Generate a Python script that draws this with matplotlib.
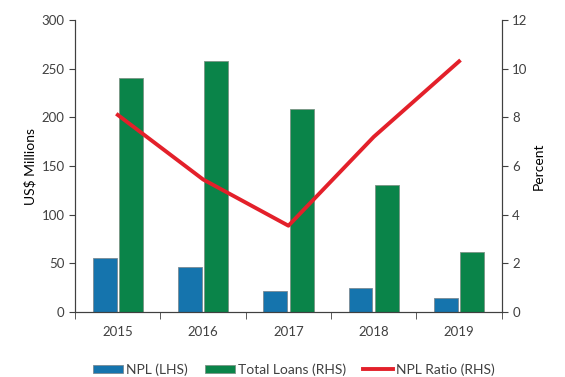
import numpy as np
import matplotlib
matplotlib.use('Agg')
import matplotlib.pyplot as plt

years = ['2015', '2016', '2017', '2018', '2019']
npl = [56, 46, 22, 25, 15]
total_loans = [240, 258, 209, 131, 62]
npl_ratio = [8.1, 5.45, 3.55, 7.2, 10.3]

plt.rcParams['font.family'] = ['Lato', 'DejaVu Sans']
plt.rcParams['font.size'] = 9.5
plt.rcParams['text.color'] = '#404040'
plt.rcParams['axes.edgecolor'] = '#404040'
plt.rcParams['xtick.color'] = '#404040'
plt.rcParams['ytick.color'] = '#404040'

fig = plt.figure(figsize=(5.65, 3.77), dpi=100)
ax = fig.add_axes([0.133, 0.172, 0.755, 0.775])
x = np.arange(len(years))
w = 0.28

b1 = ax.bar(x - 0.155, npl, w, color='#1574ad', edgecolor='#7a8a94', linewidth=0.6, label='NPL (LHS)')
b2 = ax.bar(x + 0.155, total_loans, w, color='#0a8449', edgecolor='#7a9484', linewidth=0.6, label='Total Loans (RHS)')

ax.set_xlim(-0.5, 4.5)
ax.set_ylim(0, 300)
ax.set_yticks(range(0, 301, 50))
ax.set_ylabel('US$ Millions', fontsize=10)
ax.set_xticks(x)
ax.set_xticklabels(years)
ax.set_xticks(np.arange(-0.5, 5, 1), minor=True)
ax.tick_params(axis='x', which='major', length=0, pad=10)
ax.tick_params(axis='x', which='minor', length=5, direction='out')
ax.tick_params(axis='y', length=4, direction='out')
ax.spines['top'].set_visible(False)

ax2 = ax.twinx()
ln, = ax2.plot(x, npl_ratio, color='#e3202a', linewidth=2.8, label='NPL Ratio (RHS)')
ax2.set_ylim(0, 12)
ax2.set_yticks(range(0, 13, 2))
ax2.set_ylabel('Percent', fontsize=10)
ax2.tick_params(axis='y', length=4, direction='out')
ax2.spines['top'].set_visible(False)

fig.legend(handles=[b1, b2, ln], loc='lower center', bbox_to_anchor=(0.52, -0.03),
           ncol=3, frameon=False, fontsize=10, handlelength=2.2, handletextpad=0.2,
           columnspacing=1.2, handleheight=0.6)

fig.savefig('out.png', dpi=100)
